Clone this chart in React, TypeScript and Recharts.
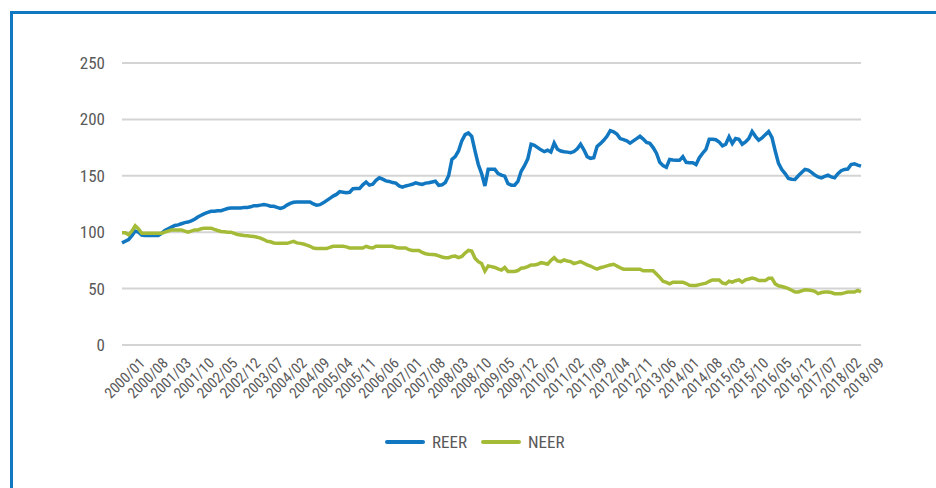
import React from 'react';
import { LineChart, Line, XAxis, YAxis, CartesianGrid, Legend } from 'recharts';

const START_YEAR = 2000;
const MONTH_COUNT = 225;
const months: string[] = Array.from({ length: MONTH_COUNT }, (_, i) =>
  `${START_YEAR + Math.floor(i / 12)}/${String((i % 12) + 1).padStart(2, '0')}`
);

const reer: number[] = [
  // 2000
  90.5, 92, 93.5, 97, 101, 100, 97.5, 97, 97, 97, 97, 97,
  // 2001
  99, 101.5, 103, 104.5, 106, 106.5, 107.5, 108.5, 109, 110, 111.5, 113.5,
  // 2002
  115, 116.5, 117.5, 118.5, 118.5, 119, 119, 120, 121, 121.5, 121.5, 121.5,
  // 2003
  121.5, 122, 122, 122.5, 123.5, 123.5, 124, 124.5, 124, 123, 123, 122,
  // 2004
  121, 122, 124, 125.5, 126.5, 126.8, 126.8, 126.8, 126.8, 126.8, 125, 124,
  // 2005
  124.4, 126, 128, 130, 132, 133.5, 136, 135.5, 135, 135.4, 138.5, 138.7,
  // 2006
  138.7, 142, 144.5, 141.7, 142.5, 146, 148.2, 147, 145.5, 145, 144, 143.5,
  // 2007
  141, 140, 141, 141.7, 142.5, 143.8, 143, 142.3, 143.5, 143.8, 144.5, 145.2,
  // 2008
  141.5, 142, 144, 150, 164.5, 167, 172, 181, 186.5, 188, 185, 172,
  // 2009
  160, 152, 141, 155.7, 155.7, 155.7, 152, 150.6, 149.7, 143, 141.7, 141.7,
  // 2010
  145, 154, 159, 165, 178, 177, 175, 173, 171.4, 172.6, 171, 179,
  // 2011
  173.5, 172, 171.4, 171, 170.5, 171.5, 174, 178, 173, 167, 165.5, 166,
  // 2012
  176, 178.5, 181.5, 185, 190, 189, 187, 183, 182, 181, 179, 181,
  // 2013
  183, 185, 182.5, 179.5, 178.8, 175, 170, 162, 159, 157.5, 164.5, 164,
  // 2014
  163.7, 163.7, 167, 162, 161.6, 161.6, 160, 166, 170, 173.5, 182.4, 182.4,
  // 2015
  182, 180, 176.5, 178, 184.5, 178.6, 183, 182.4, 178, 180, 183, 189.3,
  // 2016
  185, 181.5, 183.5, 186.5, 189.3, 184, 172, 161, 155.6, 152, 147.6, 147,
  // 2017
  146.7, 150, 153, 155.6, 155, 153, 150.6, 149, 148.2, 149.5, 150.6, 149,
  // 2018
  148.2, 151.8, 154.5, 155.6, 156, 160, 160.7, 159.5, 158.6,
];

const neer: number[] = [
  // 2000
  99.5, 99.5, 97.7, 101, 105.7, 103, 99.1, 99, 99, 99, 99, 99,
  // 2001
  99, 100, 101, 102, 102, 102, 102, 101, 100, 101, 102, 102,
  // 2002
  103, 103.6, 103.6, 103.6, 102.5, 101.5, 100.6, 100.3, 100, 100, 99, 98,
  // 2003
  97.5, 97, 96.8, 96.5, 96.2, 95.5, 94.8, 93.5, 92, 91.5, 90.5, 90.1,
  // 2004
  90.1, 90.1, 90.1, 91, 91.9, 90.5, 90.1, 89.5, 88.5, 87.5, 86, 85.5,
  // 2005
  85.5, 85.5, 85.5, 86.5, 87.5, 87.5, 87.5, 87.5, 87, 86, 86, 86,
  // 2006
  86, 86, 87.5, 86.5, 86, 87.5, 87.5, 87.5, 87.5, 87.5, 87.5, 86.5,
  // 2007
  86, 86, 86, 84.5, 83.8, 83.8, 83.8, 82, 80.9, 80.5, 80.3, 80,
  // 2008
  79, 78, 77.4, 77.4, 78.5, 78.8, 77.4, 78.5, 81.5, 83.8, 83.2, 77,
  // 2009
  73.9, 72.2, 65.5, 70.1, 69.5, 68.7, 67.5, 66.4, 68.7, 65.2, 65.2, 65.2,
  // 2010
  66, 68.1, 68.5, 69.5, 71, 71, 71.6, 73, 72.5, 71.6, 75, 77.4,
  // 2011
  74.5, 73.9, 75.4, 74.5, 73.9, 72.2, 73, 73.9, 72.5, 71, 70, 68.5,
  // 2012
  67.2, 68.5, 69.3, 70.1, 71, 71.6, 70.1, 68.5, 67.2, 67.2, 67.2, 67.2,
  // 2013
  67.2, 67.2, 65.8, 65.8, 65.8, 65.8, 63, 60, 56.5, 55.5, 54.2, 55.7,
  // 2014
  55.7, 55.7, 55.7, 54.5, 53, 52.8, 52.8, 53.5, 54.2, 54.8, 56.5, 57.7,
  // 2015
  57.7, 57.7, 55, 54.2, 56.5, 55.7, 57, 57.7, 55.7, 57.7, 58.5, 59.4,
  // 2016
  58.6, 57.1, 57.1, 57.1, 59.1, 59.1, 54.2, 52.5, 51.9, 51, 49.9, 48.5,
  // 2017
  47, 47, 48, 49, 48.7, 48.4, 47.5, 45.5, 46.5, 47, 47, 46.5,
  // 2018
  45.5, 45.5, 45.5, 46.2, 47, 47, 47, 48.4, 47,
];

const yTicks: number[] = [0, 50, 100, 150, 200, 250];
const seriesNames = ['REER', 'NEER'];

const data = months.map((m, i) => ({ month: m, REER: reer[i], NEER: neer[i] }));

const FONT = '"Liberation Sans Narrow", "Arial Narrow", "Roboto Condensed", "Liberation Sans", Arial, sans-serif';
const TEXT = '#595959';
const BLUE = '#1177C0';
const GREEN = '#A4BB38';

const XTick = (props: any) => {
  const { x, y, payload } = props;
  const ax = x + 24;
  const ay = y + 19;
  return (
    <text
      x={ax}
      y={ay}
      transform={`rotate(-45 ${ax} ${ay})`}
      textAnchor="end"
      fill={TEXT}
      fontSize={15}
      fontFamily={FONT}
    >
      {payload.value}
    </text>
  );
};

const LegendContent = () => {
  const items = [
    { name: seriesNames[0], color: BLUE },
    { name: seriesNames[1], color: GREEN },
  ];
  return (
    <div style={{ display: 'flex', alignItems: 'center', paddingLeft: 385, fontFamily: FONT, fontSize: 17, color: TEXT }}>
      {items.map((it, k) => (
        <div key={it.name} style={{ display: 'flex', alignItems: 'center', marginRight: k === 0 ? 14 : 0 }}>
          <span style={{ display: 'inline-block', width: 40, height: 4, background: it.color, borderRadius: 2 }} />
          <span style={{ marginLeft: 7 }}>{it.name}</span>
        </div>
      ))}
    </div>
  );
};

export default function App() {
  return (
    <div style={{ position: 'fixed', left: 0, top: 0, width: 936, height: 488, overflow: 'hidden', background: '#fff' }}>
      <div
        style={{
          position: 'absolute',
          left: 10,
          top: 11,
          width: 926,
          height: 477,
          borderTop: `3px solid ${BLUE}`,
          borderLeft: `3px solid ${BLUE}`,
          boxSizing: 'border-box',
        }}
      />
      <div style={{ position: 'absolute', left: 0, top: 0 }}>
        <LineChart width={936} height={488} data={data} margin={{ top: 63, right: 75, left: 0, bottom: 43 }}>
          <CartesianGrid vertical={false} stroke="#D4D4D4" strokeWidth={2} />
          <XAxis
            dataKey="month"
            interval={6}
            axisLine={false}
            tickLine={false}
            tickSize={0}
            tickMargin={0}
            height={100}
            tick={(p: any) => <XTick {...p} />}
          />
          <YAxis
            domain={[0, 250]}
            ticks={yTicks}
            width={122}
            axisLine={false}
            tickLine={false}
            tickSize={0}
            tickMargin={17}
            tick={{ fill: TEXT, fontSize: 17, fontFamily: FONT }}
          />
          <Legend
            layout="horizontal"
            verticalAlign="middle"
            align="center"
            wrapperStyle={{ top: 432, left: 0, width: 936 }}
            content={() => <LegendContent />}
          />
          <Line type="linear" dataKey="REER" stroke={BLUE} strokeWidth={3.5} dot={false} isAnimationActive={false} />
          <Line type="linear" dataKey="NEER" stroke={GREEN} strokeWidth={3.5} dot={false} isAnimationActive={false} />
        </LineChart>
      </div>
    </div>
  );
}
